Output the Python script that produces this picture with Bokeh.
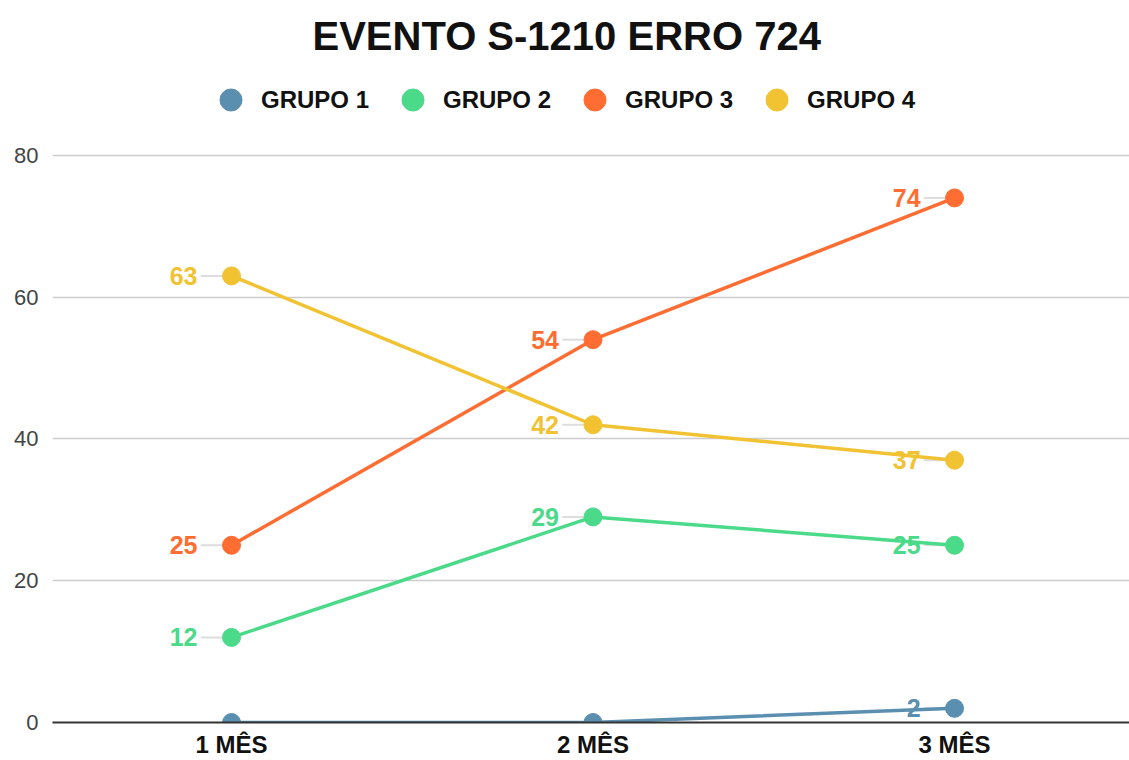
from bokeh.plotting import figure
from bokeh.models import Range1d, FixedTicker, Legend, LegendItem
from bokeh.core.properties import value
from bokeh.embed import file_html
from bokeh.resources import INLINE

months = ["1 MÊS", "2 MÊS", "3 MÊS"]
month_pos = [1, 2, 3]
grupo1 = [0, 0, 2]
grupo2 = [12, 29, 25]
grupo3 = [25, 54, 74]
grupo4 = [63, 42, 37]
names = ["GRUPO 1", "GRUPO 2", "GRUPO 3", "GRUPO 4"]
colors = ["#5a8fb0", "#4bd98a", "#ff6d33", "#f1c232"]
y_ticks = [0, 20, 40, 60, 80]

FONT = "Liberation Sans"

p = figure(width=1129, height=760,
           x_range=Range1d(0.5048, 3.484), y_range=Range1d(0, 93.1),
           output_backend="svg", toolbar_location=None,
           min_border_left=52, min_border_right=0,
           min_border_top=62, min_border_bottom=0)

p.title.text = "EVENTO S-1210 ERRO 724"
p.title.align = "left"
p.title.offset = 260
p.title.text_font = FONT
p.title.text_font_size = "40px"
p.title.text_font_style = "bold"
p.title.text_color = "#111111"

p.outline_line_color = None
p.background_fill_color = "white"

series = [grupo1, grupo2, grupo3, grupo4]
items = []
for name, col, vals in zip(names, colors, series):
    # leader lines for labels
    lx = [m for m, v in zip(month_pos, vals) if v > 0]
    ly = [v for v in vals if v > 0]
    p.segment(x0=[m - 0.085 for m in lx], y0=ly, x1=[m - 0.02 for m in lx], y1=ly,
              line_color="#dddddd", line_width=2)
    p.line(month_pos, vals, line_color=col, line_width=3.5)
    r = p.scatter(month_pos, vals, size=18, fill_color=col, line_color=col)
    p.text(lx, ly, text=[str(v) for v in ly], x_offset=-34,
           text_align="right", text_baseline="middle",
           text_font=value(FONT), text_font_size="25px", text_font_style="bold",
           text_color=col)
    items.append(LegendItem(label=name, renderers=[r]))

legend = Legend(items=items, orientation="horizontal", location=(151, 595),
                glyph_width=55, glyph_height=55, label_standoff=3, spacing=16,
                padding=0, margin=0, border_line_color=None,
                background_fill_alpha=0,
                label_text_font=FONT, label_text_font_size="24px",
                label_text_font_style="bold", label_text_color="#111111")
p.add_layout(legend)

p.xaxis.ticker = FixedTicker(ticks=month_pos)
p.xaxis.major_label_overrides = {m: lab for m, lab in zip(month_pos, months)}
p.xaxis.axis_line_color = "#333333"
p.xaxis.axis_line_width = 2
p.xaxis.major_tick_line_color = None
p.xaxis.minor_tick_line_color = None
p.xaxis.major_label_standoff = 2
p.xaxis.major_label_text_font = FONT
p.xaxis.major_label_text_font_size = "24px"
p.xaxis.major_label_text_font_style = "bold"
p.xaxis.major_label_text_color = "#111111"

p.yaxis.ticker = FixedTicker(ticks=y_ticks)
p.yaxis.axis_line_color = None
p.yaxis.major_tick_line_color = None
p.yaxis.minor_tick_line_color = None
p.yaxis.major_label_standoff = 8
p.yaxis.major_label_text_font = FONT
p.yaxis.major_label_text_font_size = "22px"
p.yaxis.major_label_text_color = "#444444"

p.xgrid.visible = False
p.ygrid.ticker = FixedTicker(ticks=y_ticks)
p.ygrid.grid_line_color = "#cccccc"
p.ygrid.grid_line_width = 1.5

open("out.html", "w").write(file_html(p, INLINE))
